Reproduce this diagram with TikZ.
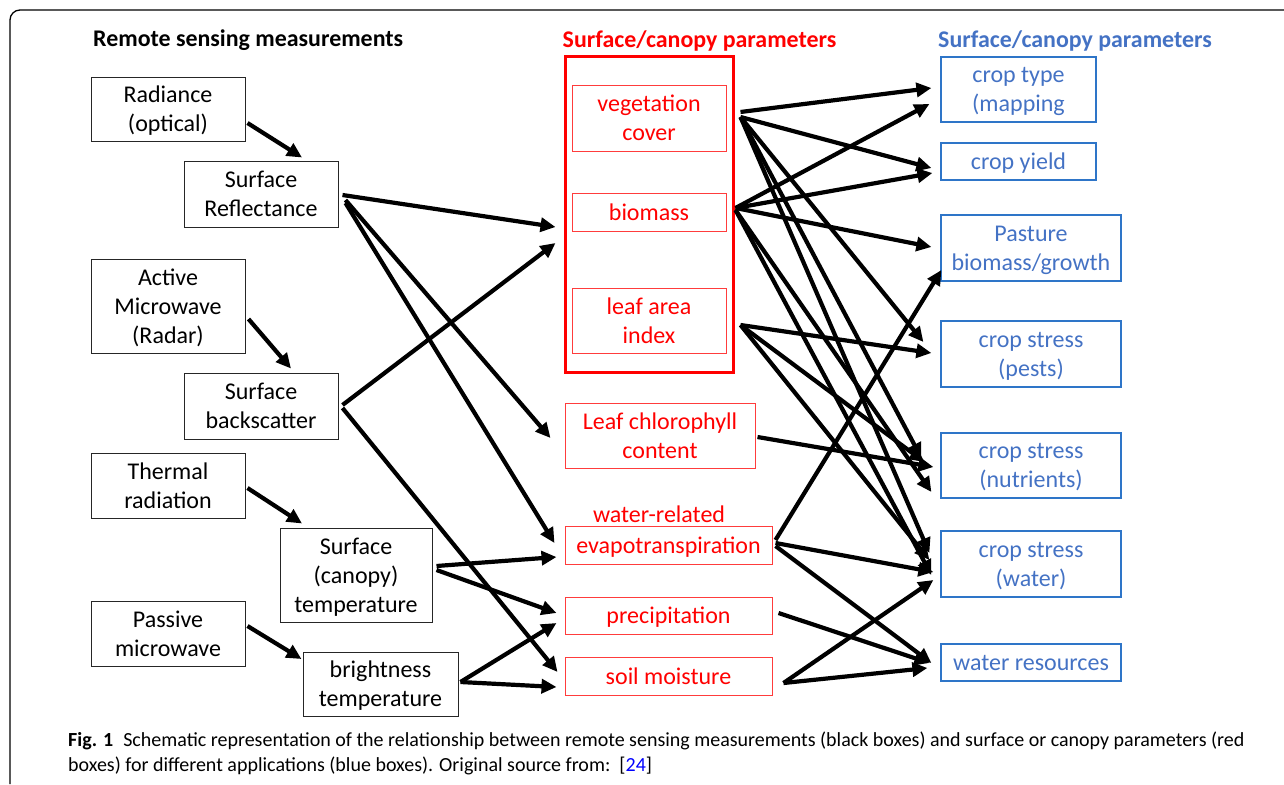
\documentclass[tikz,border=0pt]{standalone}
\usepackage{fontspec}
\setmainfont{Carlito}
\usetikzlibrary{arrows.meta}
\definecolor{rred}{RGB}{255,0,0}
\definecolor{rbord}{RGB}{255,60,60}
\definecolor{btext}{RGB}{68,114,196}
\definecolor{bbord}{RGB}{46,117,200}
\definecolor{linkblue}{RGB}{0,0,255}
\tikzset{
  txt/.style={font=\fontsize{24}{29}\selectfont, align=center, inner sep=0pt, text depth=0pt},
  blackbox/.style={txt, draw=black!85, line width=1pt},
  redbox/.style={txt, draw=rbord, line width=1pt, text=rred},
  bluebox/.style={txt, draw=bbord, line width=1.2pt, text=btext},
  ttl/.style={font=\bfseries\fontsize{23.9}{28}\selectfont, inner sep=0pt},
  captext/.style={anchor=west, inner sep=0pt, font=\fontsize{20}{24}\selectfont},
  arr/.style={line width=4.2pt, -{Triangle[length=15pt,width=14pt]}},
}
\begin{document}
\begin{tikzpicture}[x=1pt,y=-1pt]
\useasboundingbox (0,0) rectangle (1284,784);
% frame
\draw[line width=1.3pt, rounded corners=10pt] (10,784) -- (10,10) -- (1290,10);

% titles
\node[ttl, anchor=west] (t1) at (93,40) {Remote sensing measurements};
\node[ttl, text=rred] (t2) at (699.5,41) {Surface/canopy parameters};
\node[ttl, text=btext] (t3) at (1075,41) {Surface/canopy parameters};

% black boxes
\node[blackbox, minimum width=154pt, minimum height=64pt] (rad) at (168,109) {Radiance\\(optical)};
\node[blackbox, minimum width=154pt, minimum height=66pt] (refl) at (261,194) {Surface\\Reflectance};
\node[blackbox, minimum width=154pt, minimum height=94pt] (act) at (168,306) {Active\\Microwave\\(Radar)};
\node[blackbox, minimum width=154pt, minimum height=66pt] (back) at (261,406) {Surface\\backscatter};
\node[blackbox, minimum width=154pt, minimum height=65pt] (therm) at (168,485.5) {Thermal\\radiation};
\node[blackbox, minimum width=152pt, minimum height=94pt] (stemp) at (356,575) {Surface\\(canopy)\\temperature};
\node[blackbox, minimum width=154pt, minimum height=65pt] (pass) at (168,633.5) {Passive\\microwave};
\node[blackbox, minimum width=155pt, minimum height=64pt] (bright) at (380.5,684) {brightness\\temperature};

% red boxes
\node[draw=rred, line width=3pt, minimum width=168pt, minimum height=315pt, inner sep=0pt] (outer) at (649,214.5) {};
\node[redbox, minimum width=154pt, minimum height=66pt] (veg) at (649,118) {vegetation\\cover};
\node[redbox, minimum width=154pt, minimum height=38pt] (bio) at (649,212) {biomass};
\node[redbox, minimum width=154pt, minimum height=65pt] (lai) at (649,320.5) {leaf area\\index};
\node[redbox, minimum width=190pt, minimum height=65pt] (chl) at (660,435.5) {Leaf chlorophyll\\content};
\node[txt, text=rred] (wrel) at (659,514) {water-related};
\node[redbox, minimum width=207pt, minimum height=38pt] (evap) at (668.5,545) {evapotranspiration};
\node[redbox, minimum width=207pt, minimum height=37pt] (prec) at (668.5,615.5) {precipitation};
\node[redbox, minimum width=207pt, minimum height=38pt] (soil) at (668.5,676) {soil moisture};

% blue boxes
\node[bluebox, minimum width=155pt, minimum height=65pt] (ctype) at (1018.5,89.5) {crop type\\(mapping};
\node[bluebox, minimum width=155pt, minimum height=37pt] (cyield) at (1018.5,161.5) {crop yield};
\node[bluebox, minimum width=180pt, minimum height=66pt] (pasture) at (1031,248) {Pasture\\biomass/growth};
\node[bluebox, minimum width=180pt, minimum height=66pt] (pests) at (1031,354) {crop stress\\(pests)};
\node[bluebox, minimum width=180pt, minimum height=65pt] (nutr) at (1031,465.5) {crop stress\\(nutrients)};
\node[bluebox, minimum width=180pt, minimum height=66pt] (cwater) at (1031,564) {crop stress\\(water)};
\node[bluebox, minimum width=180pt, minimum height=37pt] (wres) at (1031,662.5) {water resources};

% left arrows
\draw[arr] ([shift={(2,14)}]rad.east) -- ([shift={(41,-3)}]refl.north);
\draw[arr] ([shift={(3,13)}]act.east) -- ([shift={(30,-4)}]back.north);
\draw[arr] ([shift={(2,2.5)}]therm.east) -- ([shift={(-54,-4)}]stemp.north);
\draw[arr] ([shift={(2,-7.5)}]pass.east) -- ([shift={(-1,-25)}]bright.west);

% measurement -> parameters
\draw[arr] ([shift={(4,1)}]refl.east) -- ([shift={(-8,12.5)}]outer.west);
\draw[arr] ([shift={(7,6)}]refl.east) -- ([shift={(-14,2.5)}]chl.west);
\draw[arr] ([shift={(7,9)}]refl.east) -- ([shift={(-10,-2)}]evap.west);
\draw[arr] ([shift={(4,-1)}]back.east) -- ([shift={(-8,28.5)}]outer.west);
\draw[arr] ([shift={(4,2)}]back.east) -- ([shift={(-7,-4)}]soil.west);
\draw[arr] ([shift={(4,-9)}]stemp.east) -- ([shift={(-8,12)}]evap.west);
\draw[arr] ([shift={(4,-5)}]stemp.east) -- ([shift={(-8,-2.5)}]prec.west);
\draw[arr] ([shift={(2,-2)}]bright.east) -- ([shift={(-8,7.5)}]prec.west);
\draw[arr] ([shift={(2,-2)}]bright.east) -- ([shift={(-8,11)}]soil.west);

% parameters -> applications
\draw[arr] ([shift={(14,-6)}]veg.east) -- ([shift={(-9,-1.5)}]ctype.west);
\draw[arr] ([shift={(14,-1)}]veg.east) -- ([shift={(-9,6.5)}]cyield.west);
\draw[arr] ([shift={(14,-1)}]veg.east) -- ([shift={(-17,-12)}]pests.west);
\draw[arr] ([shift={(14,-1)}]veg.east) -- ([shift={(-19,-7.5)}]nutr.west);
\draw[arr] ([shift={(14,-1)}]veg.east) -- ([shift={(-11,-11)}]cwater.west);

\draw[arr] ([shift={(9,-4)}]bio.east) -- ([shift={(-11,14.5)}]ctype.west);
\draw[arr] ([shift={(9,-4)}]bio.east) -- ([shift={(-8,11.5)}]cyield.west);
\draw[arr] ([shift={(9,-4)}]bio.east) -- ([shift={(-9,-1)}]pasture.west);
\draw[arr] ([shift={(9,-2)}]bio.east) -- ([shift={(-9,26.5)}]nutr.west);
\draw[arr] ([shift={(9,-2)}]bio.east) -- ([shift={(-9,11)}]cwater.west);

\draw[arr] ([shift={(14,4.5)}]lai.east) -- ([shift={(-9,-1)}]pests.west);
\draw[arr] ([shift={(14,4.5)}]lai.east) -- ([shift={(-16,-3.5)}]nutr.west);
\draw[arr] ([shift={(14,4.5)}]lai.east) -- ([shift={(-11,-4)}]cwater.west);

\draw[arr] ([shift={(2,1.5)}]chl.east) -- ([shift={(-7,1.5)}]nutr.west);

\draw[arr] ([shift={(3,-5)}]evap.east) -- ([shift={(1,22)}]pasture.west);
\draw[arr] ([shift={(3,-2)}]evap.east) -- ([shift={(-7,8)}]cwater.west);
\draw[arr] ([shift={(3,1)}]evap.east) -- ([shift={(-9,0.5)}]wres.west);

\draw[arr] ([shift={(6,-2.5)}]prec.east) -- ([shift={(-11,0.5)}]wres.west);

\draw[arr] ([shift={(11,7)}]soil.east) -- ([shift={(-7,16)}]cwater.west);
\draw[arr] ([shift={(11,7)}]soil.east) -- ([shift={(-13,5.5)}]wres.west);

% caption
\node[captext] (cap1) at (68,741)
  {\textbf{Fig. 1}\hspace{0.5em}Schematic representation of the relationship between remote sensing measurements (black boxes) and surface or canopy parameters (red};
\node[captext] (cap2) at (68,766)
  {boxes) for different applications (blue boxes). Original source from:\ \ [\textcolor{linkblue}{24}]};
\end{tikzpicture}
\end{document}
